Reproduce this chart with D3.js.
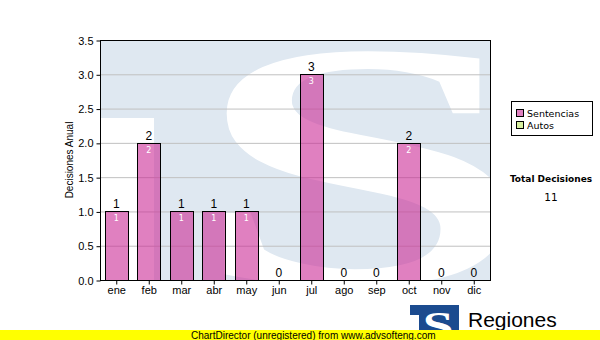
<!DOCTYPE html>
<html>
<head>
<meta charset="utf-8">
<script src="https://cdn.jsdelivr.net/npm/d3@7"></script>
<style>
  body { margin: 0; background: #fff; }
  svg { display: block; font-family: "Liberation Sans", Arial, sans-serif; }
</style>
</head>
<body>
<svg></svg>
<script>
const months = ["ene", "feb", "mar", "abr", "may", "jun", "jul", "ago", "sep", "oct", "nov", "dic"];
const sentencias = [1, 2, 1, 1, 1, 0, 3, 0, 0, 2, 0, 0];
const autos = [0, 0, 0, 0, 0, 0, 0, 0, 0, 0, 0, 0];
const yTicks = [0, 0.5, 1, 1.5, 2, 2.5, 3, 3.5];
const seriesNames = ["Sentencias", "Autos"];
const totalLabel = "Total Decisiones";

const sizes = {
  svg: { width: 600, height: 340 },
  plot: { left: 100, top: 40, right: 490, bottom: 280 }
};

const colors = {
  sentencias: "rgb(203,43,150)",
  autos: "#d8f0a0",
  watermark: "#dfe8f1",
  grid: "#c0c0c0",
  logo: "#1b4b8f"
};

const svg = d3.select("svg")
  .attr("width", sizes.svg.width)
  .attr("height", sizes.svg.height);

const x = d3.scaleBand()
  .domain(months)
  .range([sizes.plot.left, sizes.plot.right])
  .paddingInner(0.28)
  .paddingOuter(0.14);

const y = d3.scaleLinear()
  .domain([0, 3.5])
  .range([sizes.plot.bottom, sizes.plot.top]);

// watermark logo behind the plot
svg.append("clipPath").attr("id", "plotClip")
  .append("rect")
  .attr("x", sizes.plot.left)
  .attr("y", sizes.plot.top)
  .attr("width", sizes.plot.right - sizes.plot.left)
  .attr("height", sizes.plot.bottom - sizes.plot.top);

const wm = svg.append("g").attr("clip-path", "url(#plotClip)");

wm.append("path")
  .attr("d", "M100,40 H490 V280 H154 V118 H100 Z")
  .attr("fill", colors.watermark);

wm.append("text")
  .attr("transform", "translate(362,283) scale(1.75,1.0)")
  .attr("text-anchor", "middle")
  .style("font-family", "'Liberation Serif', 'DejaVu Serif', serif")
  .style("font-weight", "bold")
  .style("font-size", "350px")
  .attr("fill", "#fff")
  .text("S");

// grid
svg.append("g")
  .selectAll("line")
  .data(yTicks.slice(1, -1))
  .join("line")
  .attr("x1", sizes.plot.left)
  .attr("x2", sizes.plot.right)
  .attr("y1", d => y(d) + 0.5)
  .attr("y2", d => y(d) + 0.5)
  .attr("stroke", colors.grid)
  .attr("stroke-width", 1);

// bars
const stacked = months.map((m, i) => ({ month: m, s: sentencias[i], a: autos[i], total: sentencias[i] + autos[i] }));

svg.append("g")
  .selectAll("rect")
  .data(stacked.filter(d => d.s > 0))
  .join("rect")
  .attr("x", d => Math.round(x(d.month)) + 0.5)
  .attr("y", d => Math.round(y(d.s)) + 0.5)
  .attr("width", Math.round(x.bandwidth()))
  .attr("height", d => Math.round(y(0)) - Math.round(y(d.s)))
  .attr("fill", colors.sentencias)
  .attr("fill-opacity", 0.6)
  .attr("stroke", "#000")
  .attr("stroke-width", 1);

// inner labels
svg.append("g")
  .selectAll("text")
  .data(stacked.filter(d => d.s > 0))
  .join("text")
  .attr("x", d => x(d.month) + x.bandwidth() / 2)
  .attr("y", d => y(d.s) + 10)
  .attr("text-anchor", "middle")
  .attr("fill", "#fff")
  .style("font-family", "'DejaVu Sans', Verdana, sans-serif")
  .style("font-size", "8px")
  .text(d => d.s);

// total labels
svg.append("g")
  .selectAll("text")
  .data(stacked)
  .join("text")
  .attr("x", d => x(d.month) + x.bandwidth() / 2)
  .attr("y", d => y(d.total) - 3)
  .attr("text-anchor", "middle")
  .attr("fill", "#000")
  .style("font-size", "12px")
  .text(d => d.total);

// frame
svg.append("rect")
  .attr("x", sizes.plot.left + 0.5)
  .attr("y", sizes.plot.top + 0.5)
  .attr("width", sizes.plot.right - sizes.plot.left)
  .attr("height", sizes.plot.bottom - sizes.plot.top)
  .attr("fill", "none")
  .attr("stroke", "#000");

// axes
const yAxis = svg.append("g")
  .attr("transform", `translate(${sizes.plot.left + 0.5},0.5)`)
  .call(d3.axisLeft(y).tickValues(yTicks).tickFormat(d3.format(".1f")).tickSize(4).tickPadding(3));
yAxis.select(".domain").remove();
yAxis.selectAll("text").style("font-size", "11px").style("font-family", "'Liberation Sans', Arial, sans-serif").attr("fill", "#000");
yAxis.selectAll("line").attr("stroke", "#000");

const xAxis = svg.append("g")
  .attr("transform", `translate(0.5,${sizes.plot.bottom + 0.5})`)
  .call(d3.axisBottom(x).tickSize(4).tickPadding(2));
xAxis.select(".domain").remove();
xAxis.selectAll("text").style("font-size", "11px").style("font-family", "'Liberation Sans', Arial, sans-serif").attr("fill", "#000");
xAxis.selectAll("line").attr("stroke", "#000");

// y title
svg.append("text")
  .attr("transform", "translate(73,160) rotate(-90)")
  .attr("text-anchor", "middle")
  .style("font-size", "10px")
  .text("Decisiones Anual");

// legend
const legend = svg.append("g");
legend.append("rect")
  .attr("x", 511.5).attr("y", 101.5)
  .attr("width", 81).attr("height", 34)
  .attr("fill", "#fff").attr("stroke", "#000");

const legendColors = [colors.sentencias, colors.autos];
seriesNames.forEach((name, i) => {
  legend.append("rect")
    .attr("x", 516.5).attr("y", 109.5 + i * 12)
    .attr("width", 7).attr("height", 7)
    .attr("fill", legendColors[i])
    .attr("fill-opacity", i === 0 ? 0.6 : 1)
    .attr("stroke", "#000");
  legend.append("text")
    .attr("x", 527).attr("y", 117 + i * 12)
    .style("font-family", "'DejaVu Sans', Verdana, sans-serif")
    .style("font-size", "9.5px")
    .text(name);
});

svg.append("text")
  .attr("x", 551).attr("y", 182)
  .attr("text-anchor", "middle")
  .style("font-family", "'DejaVu Sans', Verdana, sans-serif")
  .style("font-weight", "bold")
  .style("font-size", "9px")
  .text(totalLabel);

svg.append("text")
  .attr("x", 551).attr("y", 201)
  .attr("text-anchor", "middle")
  .style("font-family", "'DejaVu Sans', Verdana, sans-serif")
  .style("font-size", "10.5px")
  .text(d3.sum(sentencias) + d3.sum(autos));

// logo at bottom
const logo = svg.append("g").attr("transform", "translate(410,305)");
logo.append("path")
  .attr("d", "M0,0 H49 V33 H9 V10 H0 Z")
  .attr("fill", colors.logo);
logo.append("text")
  .attr("transform", "translate(28,34) scale(1.4,1)")
  .attr("text-anchor", "middle")
  .style("font-family", "'Liberation Serif', serif")
  .style("font-weight", "bold")
  .style("font-size", "40px")
  .attr("fill", "#fff")
  .text("S");
logo.append("text")
  .attr("x", 58).attr("y", 22)
  .style("font-size", "21px")
  .attr("fill", "#000")
  .text("Regiones");
logo.append("text")
  .attr("x", 58).attr("y", 34)
  .style("font-size", "10px")
  .attr("fill", "#000")
  .text("Tribunal Supremo de Justicia");

// unregistered banner
svg.append("rect")
  .attr("x", 0).attr("y", 330)
  .attr("width", 600).attr("height", 10)
  .attr("fill", "#ffff00");
svg.append("text")
  .attr("x", 191).attr("y", 338.5)
  .style("font-size", "10px")
  .text("ChartDirector (unregistered) from www.advsofteng.com");
</script>
</body>
</html>
